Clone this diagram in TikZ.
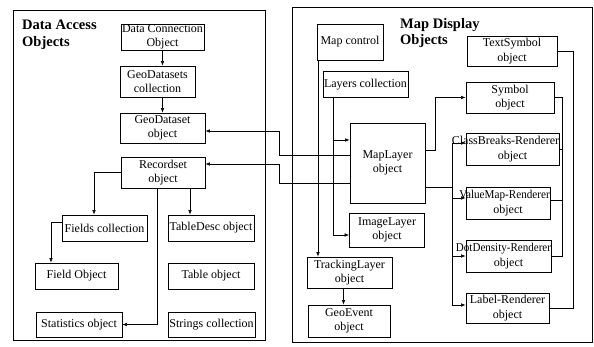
\documentclass[tikz,border=0pt]{standalone}
\usepackage{fontspec}
\usepackage{graphicx}
\setmainfont{Liberation Serif}
\usetikzlibrary{arrows.meta,calc}
\newcommand\zw[1]{\makebox[0pt]{#1}}
\begin{document}
\begin{tikzpicture}[x=1pt,y=-1pt,
  obj/.style={draw,line width=0.8pt,inner sep=0pt,align=center,
    font=\fontsize{12}{14.5}\selectfont},
  ttl/.style={anchor=north west,inner sep=0pt,align=left,
    font=\fontsize{14.5}{16.5}\selectfont\bfseries},
  frame/.style={line width=0.9pt},
  con/.style={line width=0.6pt},
  arr/.style={con,-{Latex[length=4.5pt,width=3.6pt]}}]
\useasboundingbox (0,0) rectangle (594,347);
% panels
\draw[frame] (13,10) rectangle (265,340);
\draw[frame] (292,7) rectangle (592,342);
\node[ttl] (t1) at (22,20) {Data Access\\Objects};
\node[ttl] (t2) at (400,18) {Map Display\\Objects};
% left boxes
\node[obj,minimum width=83pt,minimum height=26pt] (dc) at (162.5,37) {\zw{Data Connection}\\\zw{Object}};
\node[obj,minimum width=75pt,minimum height=31pt] (gds) at (157.5,81.5) {\zw{GeoDatasets}\\\zw{collection}};
\node[obj,minimum width=85pt,minimum height=30pt] (gd) at (162.5,128) {\zw{GeoDataset}\\\zw{object}};
\node[obj,minimum width=84pt,minimum height=31pt] (rs) at (163,172.5) {\zw{Recordset}\\\zw{object}};
\node[obj,minimum width=85pt,minimum height=26pt] (fc) at (104.5,228) {\zw{Fields collection}};
\node[obj,minimum width=86pt,minimum height=26pt] (td) at (211,228) {\zw{TableDesc object}};
\node[obj,minimum width=83pt,minimum height=26pt] (fo) at (76.5,276) {\zw{Field Object}};
\node[obj,minimum width=86pt,minimum height=26pt] (to) at (211,276) {\zw{Table object}};
\node[obj,minimum width=86pt,minimum height=25pt] (so) at (79,324.5) {\zw{Statistics object}};
\node[obj,minimum width=87pt,minimum height=25pt] (sc) at (211.5,324.5) {\zw{Strings collection}};
% right boxes
\node[obj,minimum width=66pt,minimum height=36pt] (mc) at (350,42) {\zw{Map control}};
\node[obj,minimum width=90pt,minimum height=30pt] (ts) at (512,51) {\zw{TextSymbol}\\\zw{object}};
\node[obj,minimum width=85pt,minimum height=26pt] (lc) at (365.5,84.5) {\zw{Layers collection}};
\node[obj,minimum width=88pt,minimum height=31pt] (sy) at (510,97.5) {\zw{Symbol}\\\zw{object}};
\node[obj,minimum width=75pt,minimum height=80pt] (ml) at (387.5,163) {\zw{MapLayer}\\\zw{object}};
\node[obj,minimum width=93pt,minimum height=32pt] (cb) at (512.5,149) {\zw{ClassBreaks-Renderer\kern14pt}\\\zw{object}};
\node[obj,minimum width=84pt,minimum height=32pt] (vm) at (508,203) {\zw{\scalebox{0.93}[1]{ValueMap-Renderer}\kern7pt}\\\zw{object}};
\node[obj,minimum width=75pt,minimum height=34pt] (il) at (387,230) {\zw{ImageLayer}\\\zw{object}};
\node[obj,minimum width=85pt,minimum height=32pt] (dd) at (508.5,256) {\zw{\scalebox{0.92}[1]{DotDensity-Renderer}\kern10pt}\\\zw{object}};
\node[obj,minimum width=85pt,minimum height=31pt] (tl) at (349.5,272.5) {\zw{TrackingLayer}\\\zw{object}};
\node[obj,minimum width=82pt,minimum height=32pt] (ge) at (349,321) {\zw{GeoEvent}\\\zw{object}};
\node[obj,minimum width=83pt,minimum height=30pt] (lr) at (507.5,308) {\zw{Label-Renderer}\\\zw{object}};
% left connectors
\draw[arr] (dc.south) -- (dc.south |- gds.north);
\draw[arr] (dc.south |- gds.south) -- (dc.south |- gd.north);
\draw[arr] (rs.west) -| ([xshift=-10.5pt]fc.north);
\draw[arr] ([xshift=27pt]rs.south) -- ([xshift=27pt]rs.south |- td.north);
\draw[arr] ([xshift=-6pt]rs.south) |- (so.east);
\draw[arr] ([yshift=6pt]fc.west) -| ([xshift=-25.5pt]fo.north);
% map layer to data objects
\draw[arr] ([yshift=8pt]ml.west) -- ++(-70pt,0) |- ([yshift=-3pt]gd.east);
\draw[arr] ([yshift=-20pt]ml.west) -- ++(-70pt,0) |- ([yshift=8.5pt]rs.east);
% right connectors
\draw[arr] ([xshift=-32pt]mc.south) -- ([xshift=-32pt]mc.south |- tl.north);
\coordinate (lx) at ([xshift=-32.5pt]lc.south);
\coordinate (mlin) at ([yshift=23pt]ml.west);
\draw[arr] (lx) |- ([yshift=-5pt]il.west);
\draw[arr] (lx |- mlin) -- (mlin);
\draw[arr] ([yshift=13pt]ml.east) -- ++(10pt,0) |- (sy.west);
\coordinate (rx) at ([xshift=27pt,yshift=-24pt]ml.east);
\draw[con] ([yshift=-24pt]ml.east) -- (rx);
\draw[arr] (rx) |- ([yshift=6pt]cb.west);
\draw[arr] (rx) |- ([yshift=5pt]vm.west);
\draw[arr] (rx) |- (dd.west);
\draw[arr] (rx) |- ([yshift=3pt]lr.west);
\coordinate (sx) at ([xshift=8pt]sy.east);
\draw[con] (sy.east) -- (sx) |- (dd.east);
\draw[con] (cb.east) -- (cb.east -| sx);
\draw[con] ([yshift=3pt]vm.east) -- ([yshift=3pt]vm.east -| sx);
\draw[con] (ts.east) -- ++(16pt,0) |- (lr.east);
\draw[arr] ([xshift=-6pt]tl.south) -- ([xshift=-6pt]tl.south |- ge.north);
\end{tikzpicture}
\end{document}
